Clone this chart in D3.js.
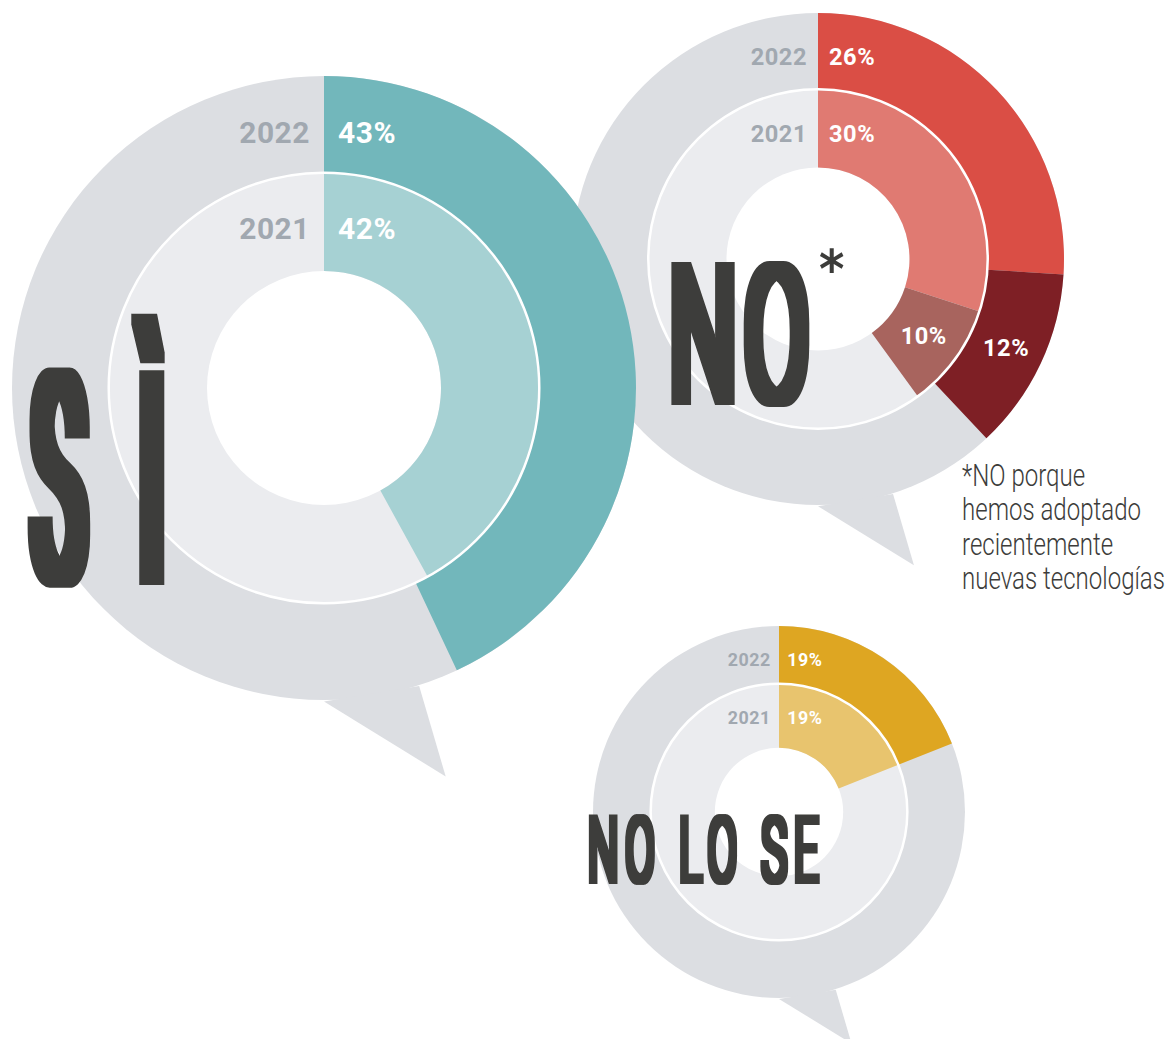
<!DOCTYPE html>
<html>
<head>
<meta charset="utf-8">
<script src="https://cdn.jsdelivr.net/npm/d3@7"></script>
<style>
  body { margin: 0; background: #ffffff; }
  svg { display: block; }
</style>
</head>
<body>
<svg id="chart"></svg>
<script>
// data (percent of answers)
var years = ["2022", "2021"];
var siShares = [43, 42];
var noShares = [26, 30];          // plain "NO"
var noNewTechShares = [12, 10];   // "NO porque hemos adoptado..."
var noLoSeShares = [19, 19];
var footnoteLines = ["*NO porque", "hemos adoptado", "recientemente", "nuevas tecnologías"];

var screen = {width: 1167, height: 1039};

var svg = d3.select("#chart")
  .attr("width", screen.width)
  .attr("height", screen.height);
var defs = svg.append("defs");

var angle = d3.scaleLinear().domain([0, 100]).range([0, 2 * Math.PI]);

var bubbleGray = "#dcdee2";
var ringGray = "#ebecef";
var yearGray = "#a1a8b0";
var ink = "#3c3c3a";

// tail of the speech bubble, relative to the radius
var tail = [[0, 1.005], [0.39, 1.245], [0.305, 0.955]];

var drawBubble = function(cfg)
{
  var R = cfg.R;
  var mid = R * 0.69;
  var hole = R * cfg.hole;
  var fs = R * 0.096;
  var g = svg.append("g")
    .attr("transform", "translate(" + cfg.cx + "," + cfg.cy + ")");

  g.append("circle").attr("r", R).attr("fill", bubbleGray);
  g.append("polygon")
    .attr("points", tail.map(function(p){ return (p[0] * R) + "," + (p[1] * R); }).join(" "))
    .attr("fill", bubbleGray);
  g.append("circle").attr("r", mid).attr("fill", ringGray);
  g.append("circle").attr("r", hole).attr("fill", "#fff");

  // rings: index 0 = 2022 (outer), 1 = 2021 (inner)
  var rings = [
    {inner: mid, outer: R},
    {inner: hole, outer: mid}
  ];

  var segLabels = [];
  cfg.series.forEach(function(s)
  {
    s.values.forEach(function(v, i)
    {
      var a0 = s.offset ? s.offset[i] : 0;
      var arcPath = d3.arc()
        .innerRadius(rings[i].inner)
        .outerRadius(rings[i].outer)
        .startAngle(angle(a0))
        .endAngle(angle(a0 + v));
      g.append("path")
        .attr("d", arcPath())
        .attr("fill", s.colors[i]);
      if (s.offset)
      {
        segLabels.push({c: arcPath.centroid(), v: v});
      }
    });
  });

  g.append("circle").attr("r", mid)
    .attr("fill", "none").attr("stroke", "#fff").attr("stroke-width", 2.5);

  segLabels.forEach(function(d)
  {
    g.append("text")
      .attr("x", d.c[0]).attr("y", d.c[1])
      .attr("text-anchor", "middle")
      .attr("dominant-baseline", "central")
      .attr("font-family", "Roboto")
      .attr("font-weight", 700)
      .attr("font-size", fs)
      .attr("letter-spacing", 0.5)
      .attr("fill", "#fff")
      .text(d.v + "%");
  });

  var labelR = [R * 0.82, R * 0.51];
  var first = cfg.series[0].values;
  years.forEach(function(y, i)
  {
    g.append("text")
      .attr("x", -R * 0.045).attr("y", -labelR[i])
      .attr("text-anchor", "end")
      .attr("dominant-baseline", "central")
      .attr("font-family", "Roboto").attr("font-weight", 700)
      .attr("font-size", fs)
      .attr("letter-spacing", 0.5)
      .attr("fill", yearGray)
      .text(y);
    g.append("text")
      .attr("x", R * 0.045).attr("y", -labelR[i])
      .attr("dominant-baseline", "central")
      .attr("font-family", "Roboto").attr("font-weight", 700)
      .attr("font-size", fs)
      .attr("letter-spacing", 0.5)
      .attr("fill", "#fff")
      .text(first[i] + "%");
  });
  return g;
}

// light face squeezed sideways, then fattened evenly with a dilate filter
var wordCount = 0;
var bigWord = function(txt, x, y, size, sx, spacing, rx, ry)
{
  var id = "fatten" + (wordCount++);
  defs.append("filter")
    .attr("id", id)
    .attr("filterUnits", "userSpaceOnUse")
    .attr("x", 0).attr("y", 0)
    .attr("width", screen.width).attr("height", screen.height)
    .append("feMorphology")
    .attr("operator", "dilate")
    .attr("radius", rx + " " + ry);
  return svg.append("g")
    .attr("filter", "url(#" + id + ")")
    .append("text")
    .attr("transform", "translate(" + x + "," + y + ") scale(" + sx + ",1)")
    .attr("font-family", "Roboto")
    .attr("font-weight", 300)
    .attr("font-size", size)
    .attr("letter-spacing", spacing)
    .attr("fill", ink)
    .text(txt);
}

// NO bubble (drawn first, sits behind the SI bubble)
drawBubble({
  cx: 818, cy: 259, R: 246, hole: 0.372,
  series: [
    {values: noShares, colors: ["#da4e45", "#e07a72"]},
    {values: noNewTechShares, offset: noShares, colors: ["#7e1f25", "#a8645e"]}
  ]
});

drawBubble({
  cx: 779, cy: 812, R: 186, hole: 0.345,
  series: [{values: noLoSeShares, colors: ["#dea622", "#e8c46e"]}]
});

drawBubble({
  cx: 324, cy: 388, R: 312, hole: 0.375,
  series: [{values: siShares, colors: ["#72b7bb", "#a6d1d3"]}]
});

bigWord("SÌ", 34, 580, 288, 0.29, 197, 10, 5);
bigWord("NO", 670, 401, 190, 0.49, 18, 7, 4);
svg.append("text")
  .attr("x", 819).attr("y", 288)
  .attr("font-family", "DejaVu Sans Condensed")
  .attr("font-weight", 700)
  .attr("font-size", 54)
  .attr("fill", ink)
  .text("*");
bigWord("NO LO SE", 588, 881, 89, 0.48, 15, 3.2, 2.5);

// footnote, squeezed horizontally like a condensed face
var foot = svg.append("g");
var footTexts = foot.selectAll("text")
  .data(footnoteLines)
  .enter()
  .append("text")
  .attr("font-family", "Roboto")
  .attr("font-weight", 300)
  .attr("font-size", 32)
  .attr("fill", ink)
  .text(function(d){ return d; });
var longest = d3.max(footTexts.nodes(), function(n){ return n.getComputedTextLength(); });
var squeeze = 203 / longest;
footTexts.attr("transform", function(d, i){
  return "translate(962," + (486 + i * 34.3) + ") scale(" + squeeze + ",1)";
});
</script>
</body>
</html>
